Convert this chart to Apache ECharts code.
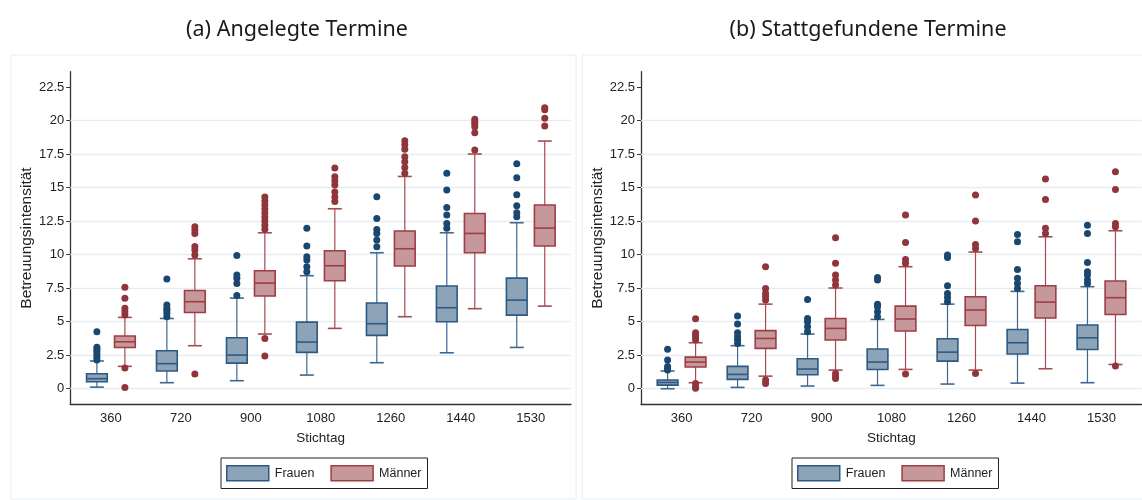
<!DOCTYPE html>
<html>
<head>
<meta charset="utf-8">
<script src="https://cdn.jsdelivr.net/npm/echarts@6/dist/echarts.min.js"></script>
<style>
html,body{margin:0;padding:0;background:#fff;}
#main{width:1142px;height:500px;}
</style>
</head>
<body>
<div id="main"></div>
<script>
// ---------- data ----------
const categories = ['360', '720', '900', '1080', '1260', '1440', '1530'];
const yTickValues = [0, 2.5, 5, 7.5, 10, 12.5, 15, 17.5, 20, 22.5];
const gridLineValues = [0, 2.5, 5, 7.5, 10, 12.5, 15, 17.5, 20];
const titles = ['(a) Angelegte Termine', '(b) Stattgefundene Termine'];
const seriesNames = ['Frauen', 'Männer'];

// box stats per category: [lower whisker, q1, median, q3, upper whisker]
const aFrauenBox = [
  [0.12, 0.52, 0.75, 1.12, 2.07],
  [0.45, 1.32, 1.87, 2.83, 5.24],
  [0.60, 1.91, 2.51, 3.80, 6.76],
  [1.02, 2.71, 3.48, 4.97, 8.43],
  [1.94, 3.98, 4.85, 6.39, 10.14],
  [2.68, 5.00, 6.04, 7.66, 11.63],
  [3.08, 5.49, 6.61, 8.25, 12.38]
];
const aMaennerBox = [
  [1.67, 3.08, 3.50, 3.93, 5.32],
  [3.21, 5.69, 6.49, 7.33, 9.69],
  [4.08, 6.91, 7.88, 8.80, 11.63],
  [4.50, 8.05, 9.17, 10.29, 13.42],
  [5.37, 9.15, 10.44, 11.76, 15.83],
  [5.97, 10.14, 11.58, 13.07, 17.50],
  [6.16, 10.64, 11.98, 13.70, 18.47]
];
const aFrauenOut = [
  [2.15, 2.35, 2.55, 2.75, 2.95, 3.1, 4.25],
  [5.37, 5.62, 5.85, 5.99, 6.24, 8.18],
  [6.96, 7.85, 8.23, 8.48, 9.94],
  [8.72, 9.1, 9.6, 9.84, 10.64, 11.96],
  [10.59, 11.09, 11.58, 11.88, 12.7, 14.32],
  [11.96, 12.33, 12.95, 13.52, 14.81, 16.06],
  [12.83, 13.12, 13.65, 14.47, 15.73, 16.78]
];
const aMaennerOut = [
  [0.1, 1.55, 5.5, 5.75, 6.0, 6.74, 7.56],
  [1.09, 9.97, 10.35, 10.6, 11.58, 11.83, 12.08],
  [2.44, 3.75, 11.9, 12.2, 12.5, 12.8, 13.1, 13.4, 13.7, 14.0, 14.3],
  [13.97, 14.3, 14.67, 15.19, 15.5, 15.81, 16.46],
  [16.06, 16.5, 16.93, 17.3, 17.85, 18.2, 18.49],
  [17.8, 19.09, 19.54, 19.75, 19.91, 20.1],
  [19.59, 20.16, 20.8, 20.95]
];
const bFrauenBox = [
  [0.00, 0.27, 0.47, 0.65, 1.32],
  [0.10, 0.70, 1.07, 1.67, 3.21],
  [0.20, 1.04, 1.47, 2.24, 4.08],
  [0.25, 1.44, 1.99, 2.96, 5.17],
  [0.35, 2.06, 2.73, 3.73, 6.31],
  [0.42, 2.59, 3.43, 4.42, 7.26],
  [0.45, 2.93, 3.80, 4.75, 7.61]
];
const bMaennerBox = [
  [0.45, 1.62, 1.99, 2.36, 3.43],
  [0.94, 3.01, 3.75, 4.33, 6.31],
  [1.39, 3.63, 4.50, 5.24, 7.51],
  [1.44, 4.30, 5.20, 6.16, 9.10],
  [1.39, 4.72, 5.87, 6.86, 10.19],
  [1.49, 5.27, 6.46, 7.68, 11.33],
  [1.81, 5.54, 6.79, 8.03, 11.78]
];
const bFrauenOut = [
  [1.4, 1.5, 1.65, 2.15, 2.95],
  [3.38, 3.65, 3.88, 4.18, 4.82, 5.42],
  [4.25, 4.62, 5.0, 5.24, 6.66],
  [5.37, 5.74, 6.11, 6.3, 8.1, 8.3],
  [6.49, 6.81, 7.11, 7.68, 9.79, 9.97],
  [7.48, 7.85, 8.23, 8.9, 10.96, 11.51],
  [7.85, 8.1, 8.48, 8.72, 9.42, 11.58, 12.2]
];
const bMaennerOut = [
  [0.03, 0.15, 0.4, 3.63, 3.85, 4.0, 4.18, 5.22],
  [0.4, 0.65, 6.61, 6.9, 7.11, 7.48, 9.1],
  [0.77, 0.9, 1.14, 7.73, 8.1, 8.48, 9.35, 11.26],
  [1.09, 9.35, 9.64, 10.91, 12.95],
  [1.14, 10.46, 10.76, 12.5, 14.44],
  [11.58, 11.96, 14.12, 15.63],
  [1.69, 12.08, 12.33, 14.86, 16.18]
];

// ---------- styles ----------
const NARROW = "'Liberation Sans Narrow', 'Liberation Sans', Arial, sans-serif";
const sty = {
  Frauen: {fill: '#8da3b8', stroke: '#2d5a82', whisk: '#3f6890', dot: '#1a476f', sign: -1},
  'Männer': {fill: '#c7989b', stroke: '#9e3d44', whisk: '#a54b52', dot: '#90353b', sign: 1}
};

function boxData(arr) { return arr.map((b, i) => [i].concat(b)); }
function outData(arr) {
  const res = [];
  arr.forEach((list, i) => list.forEach(v => res.push([i, v])));
  return res;
}

function makeRender(s) {
  return function (params, api) {
    const x = api.value(0);
    const unit = api.size([1, 0])[0];
    const off = s.sign * 0.2 * unit;
    const pLow = api.coord([x, api.value(1)]);
    const pQ1 = api.coord([x, api.value(2)]);
    const pMed = api.coord([x, api.value(3)]);
    const pQ3 = api.coord([x, api.value(4)]);
    const pHigh = api.coord([x, api.value(5)]);
    const cx = pLow[0] + off;
    const bw = 0.296 * unit;
    const cw = 0.2 * unit;
    const wl = {stroke: s.whisk, lineWidth: 1.2};
    return {
      type: 'group',
      children: [
        {type: 'line', shape: {x1: cx, y1: pQ3[1], x2: cx, y2: pHigh[1]}, style: wl},
        {type: 'line', shape: {x1: cx, y1: pQ1[1], x2: cx, y2: pLow[1]}, style: wl},
        {type: 'line', shape: {x1: cx - cw / 2, y1: pHigh[1], x2: cx + cw / 2, y2: pHigh[1]}, style: {stroke: s.whisk, lineWidth: 1.6}},
        {type: 'line', shape: {x1: cx - cw / 2, y1: pLow[1], x2: cx + cw / 2, y2: pLow[1]}, style: {stroke: s.whisk, lineWidth: 1.6}},
        {type: 'rect', shape: {x: cx - bw / 2, y: pQ3[1], width: bw, height: pQ1[1] - pQ3[1]},
          style: {fill: s.fill, stroke: s.stroke, lineWidth: 1.6}},
        {type: 'line', shape: {x1: cx - bw / 2, y1: pMed[1], x2: cx + bw / 2, y2: pMed[1]}, style: {stroke: s.stroke, lineWidth: 1.6}}
      ]
    };
  };
}

const panels = [
  {box: [aFrauenBox, aMaennerBox], out: [aFrauenOut, aMaennerOut]},
  {box: [bFrauenBox, bMaennerBox], out: [bFrauenOut, bMaennerOut]}
];
const gridLefts = [70.3, 641];
const titleCenters = [292, 863];
const legendLefts = [221, 792];

const grids = [], xAxes = [], yAxes = [], series = [], titleOpts = [], legends = [];
panels.forEach((p, k) => {
  grids.push({left: gridLefts[k], width: 500.7, top: 71.7, bottom: 95.7});
  xAxes.push({
    type: 'value', gridIndex: k, min: -0.58, max: 6.575,
    name: 'Stichtag', nameLocation: 'middle', nameGap: 27,
    nameTextStyle: {fontFamily: NARROW, fontSize: 13.5, color: '#222'},
    axisLine: {show: true, onZero: false, lineStyle: {color: '#333', width: 1.3}},
    axisTick: {show: false},
    splitLine: {show: false},
    axisLabel: {
      customValues: categories.map((c, i) => i),
      formatter: v => categories[Math.round(v)],
      fontFamily: NARROW, fontSize: 13, color: '#222', margin: 8
    }
  });
  yAxes.push({
    type: 'value', gridIndex: k, min: -1.16, max: 23.64,
    name: 'Betreuungsintensität', nameLocation: 'middle', nameGap: 31, nameRotate: 90,
    nameTextStyle: {fontFamily: "'Liberation Sans', Arial, sans-serif", fontSize: 15.5, color: '#222'},
    axisLine: {show: true, onZero: false, lineStyle: {color: '#333', width: 1.3}},
    axisTick: {show: true, length: 4, customValues: yTickValues, lineStyle: {color: '#333'}},
    splitLine: {show: false},
    axisLabel: {customValues: yTickValues, fontFamily: NARROW, fontSize: 13, color: '#222', margin: 6}
  });
  seriesNames.forEach((nm, j) => {
    const s = sty[nm];
    const ser = {
      type: 'custom', name: nm, xAxisIndex: k, yAxisIndex: k,
      renderItem: makeRender(s),
      encode: {x: 0, y: [1, 2, 3, 4, 5]},
      itemStyle: {color: s.fill, borderColor: s.stroke},
      data: boxData(p.box[j]), z: 3, silent: true
    };
    if (j === 0) {
      ser.markLine = {
        silent: true, symbol: 'none', z: 1, animation: false,
        label: {show: false},
        lineStyle: {color: '#e6edf1', width: 1.4, type: 'solid'},
        data: gridLineValues.map(v => ({yAxis: v}))
      };
    }
    series.push(ser);
    series.push({
      type: 'scatter', name: nm, xAxisIndex: k, yAxisIndex: k,
      symbol: 'circle', symbolSize: 7, symbolOffset: [s.sign * 14, 0],
      itemStyle: {color: s.dot, opacity: 1},
      data: outData(p.out[j]), z: 4, silent: true
    });
  });
  titleOpts.push({
    text: titles[k], left: titleCenters[k], top: 14, textAlign: 'center',
    textStyle: {fontFamily: "'Noto Sans', sans-serif", fontSize: 21.5, fontWeight: 'normal', color: '#1a1a1a'}
  });
  legends.push({
    left: legendLefts[k], top: 458, orient: 'horizontal',
    borderColor: '#222', borderWidth: 1, padding: [7, 6, 7, 5], itemGap: 16,
    itemWidth: 42, itemHeight: 15, selectedMode: false,
    textStyle: {fontFamily: NARROW, fontSize: 12.5, color: '#222', padding: [0, 0, 0, 1]},
    data: seriesNames.map(nm => ({
      name: nm, icon: 'rect',
      itemStyle: {color: sty[nm].fill, borderColor: sty[nm].stroke, borderWidth: 1.5}
    }))
  });
});

const chart = echarts.init(document.getElementById('main'), null, {renderer: 'canvas'});
chart.setOption({
  animation: false,
  backgroundColor: '#fff',
  title: titleOpts,
  legend: legends,
  grid: grids,
  xAxis: xAxes,
  yAxis: yAxes,
  series: series,
  graphic: [
    {type: 'rect', shape: {x: 11, y: 55, width: 565, height: 444}, style: {fill: 'none', stroke: '#e8eef2', lineWidth: 1}, z: -1, silent: true},
    {type: 'rect', shape: {x: 582, y: 55, width: 570, height: 444}, style: {fill: 'none', stroke: '#e8eef2', lineWidth: 1}, z: -1, silent: true}
  ]
});
</script>
</body>
</html>
